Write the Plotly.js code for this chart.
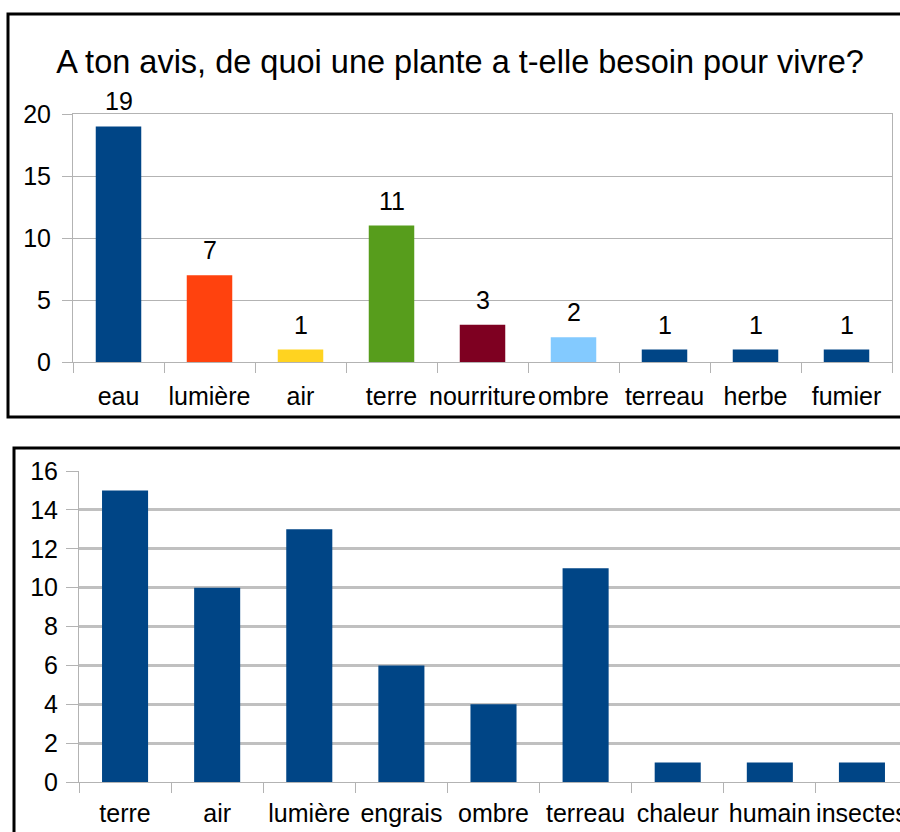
<!DOCTYPE html>
<html>
<head>
<meta charset="utf-8">
<script src="https://cdn.plot.ly/plotly-3.0.1.min.js"></script>
<style>
html,body{margin:0;padding:0;overflow:hidden;background:#fff;}
#wrap{width:900px;height:832px;overflow:hidden;position:relative;}
#chart{width:940px;height:880px;}
</style>
</head>
<body>
<div id="wrap"><div id="chart"></div></div>
<script>
// Chart 1 data
const cats1 = ["eau", "lumière", "air", "terre", "nourriture", "ombre", "terreau", "herbe", "fumier"];
const vals1 = [19, 7, 1, 11, 3, 2, 1, 1, 1];
const colors1 = ["#004586", "#ff420e", "#ffd320", "#579d1c", "#7e0021", "#83caff", "#004586", "#004586", "#004586"];
const title1 = "A ton avis, de quoi une plante a t-elle besoin pour vivre?";
const yTicks1 = [0, 5, 10, 15, 20];

// Chart 2 data
const cats2 = ["terre", "air", "lumière", "engrais", "ombre", "terreau", "chaleur", "humain", "insectes"];
const vals2 = [15, 10, 13, 6, 4, 11, 1, 1, 1];
const yTicks2 = [0, 2, 4, 6, 8, 10, 12, 14, 16];

const W = 940, H = 880;
const px = v => v / W;
const py = v => 1 - v / H;
const font = "Liberation Sans, Arial, sans-serif";

const traces = [
  {
    type: "bar", x: cats1, y: vals1, xaxis: "x", yaxis: "y",
    marker: {color: colors1}, width: 0.5, hoverinfo: "x+y"
  },
  {
    type: "bar", x: cats2, y: vals2, xaxis: "x2", yaxis: "y2",
    marker: {color: "#004586"}, width: 0.5, hoverinfo: "x+y"
  }
];

const labelAnnotations = cats1.map((c, i) => ({
  x: c, y: vals1[i], xref: "x", yref: "y",
  text: String(vals1[i]), showarrow: false,
  xanchor: "center", yanchor: "bottom", yshift: 9,
  font: {family: font, size: 25, color: "#000"}
}));

const axisFont = {family: font, size: 25, color: "#000"};

const layout = {
  width: W, height: H,
  margin: {l: 0, r: 0, t: 0, b: 0},
  paper_bgcolor: "#fff", plot_bgcolor: "#fff",
  showlegend: false,
  font: {family: font, size: 25, color: "#000"},
  title: {text: title1, font: {family: font, size: 32.5, color: "#000"},
          x: px(460), xanchor: "center", y: py(62), yanchor: "middle", xref: "paper", yref: "paper"},
  xaxis: {
    domain: [px(73), px(892)], anchor: "y", type: "category", tickangle: 0,
    tickson: "boundaries", ticks: "outside", ticklen: 10, tickcolor: "#b3b3b3",
    ticklabelstandoff: 12,
    showline: true, linecolor: "#b3b3b3", mirror: true, linewidth: 1,
    showgrid: false, tickfont: axisFont, fixedrange: true
  },
  yaxis: {
    domain: [py(362), py(114)], anchor: "x", range: [0, 20], tickvals: yTicks1,
    ticks: "outside", ticklen: 10, tickcolor: "#b3b3b3", ticklabelstandoff: 6,
    showline: true, linecolor: "#b3b3b3", mirror: true, linewidth: 1,
    gridcolor: "#b3b3b3", gridwidth: 1, zeroline: false,
    tickfont: axisFont, fixedrange: true
  },
  xaxis2: {
    domain: [px(79), px(908)], anchor: "y2", type: "category", tickangle: 0,
    tickson: "boundaries", ticks: "outside", ticklen: 10, tickcolor: "#b3b3b3",
    ticklabelstandoff: 9,
    showline: true, linecolor: "#b3b3b3", linewidth: 1,
    showgrid: false, tickfont: axisFont, fixedrange: true
  },
  yaxis2: {
    domain: [py(782), py(471)], anchor: "x2", range: [0, 16], tickvals: yTicks2,
    ticks: "outside", ticklen: 12, tickcolor: "#b3b3b3", ticklabelstandoff: 3,
    showline: true, linecolor: "#b3b3b3", linewidth: 1,
    gridcolor: "#c0c0c0", gridwidth: 3, zeroline: false,
    tickfont: axisFont, fixedrange: true
  },
  annotations: labelAnnotations,
  shapes: [
    {type: "rect", xref: "paper", yref: "paper", x0: px(8), x1: px(935), y0: py(14), y1: py(417),
     line: {color: "#000", width: 3}, fillcolor: "rgba(0,0,0,0)", layer: "below"},
    {type: "rect", xref: "paper", yref: "paper", x0: px(14), x1: px(935), y0: py(448), y1: py(875),
     line: {color: "#000", width: 3}, fillcolor: "rgba(0,0,0,0)", layer: "below"}
  ]
};

Plotly.newPlot("chart", traces, layout, {displayModeBar: false, staticPlot: true});
</script>
</body>
</html>
